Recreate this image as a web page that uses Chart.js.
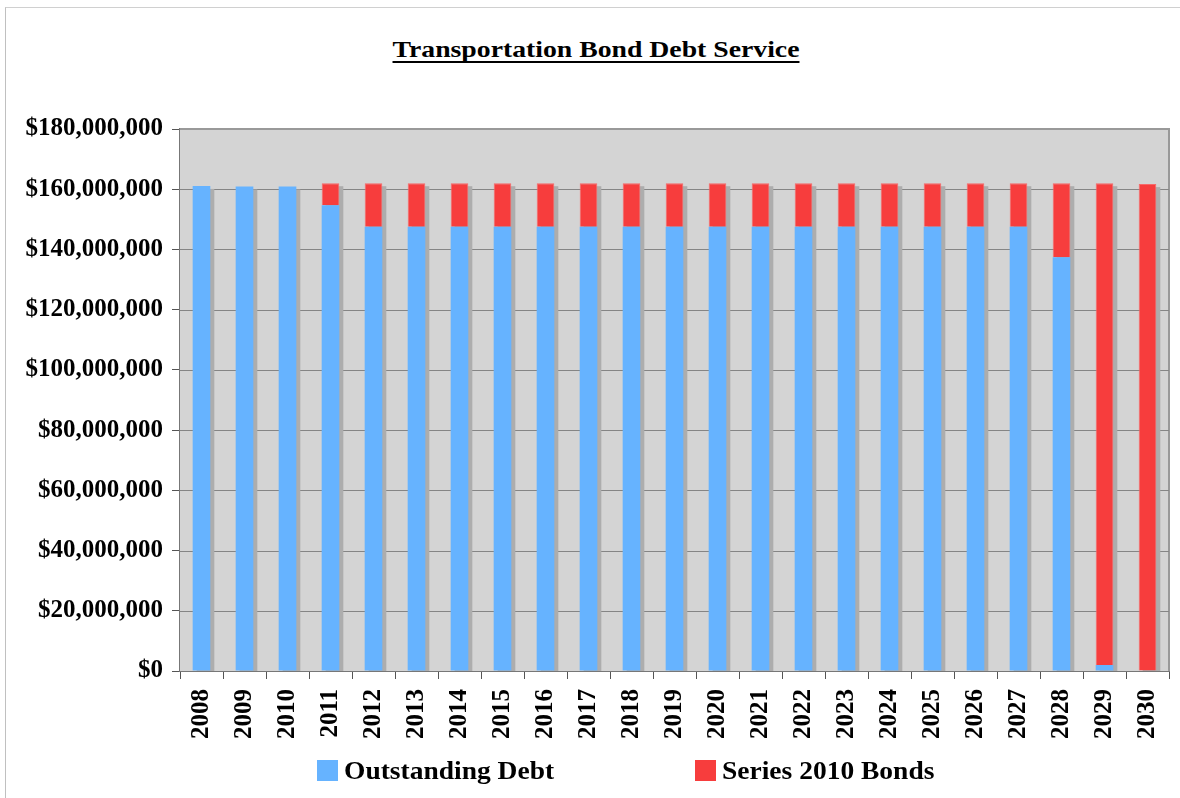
<!DOCTYPE html>
<html>
<head>
<meta charset="utf-8">
<script src="https://cdn.jsdelivr.net/npm/chart.js@4.4.1/dist/chart.umd.min.js"></script>
<style>
  html, body { margin: 0; padding: 0; background: #fff; }
  #wrap { position: relative; width: 1180px; height: 798px; overflow: hidden; font-family: 'Liberation Serif', 'Times New Roman', serif; }
  #frame { position: absolute; left: 5px; top: 7px; width: 1300px; height: 900px; border-top: 1px solid #d0d0d0; border-left: 1px solid #c0c0c0; }
  #title { position: absolute; left: 596px; top: 36px; transform: translateX(-50%) scaleX(1.18); white-space: nowrap; font-weight: bold; font-size: 23.5px; text-decoration: underline; text-decoration-skip-ink: none; text-underline-offset: 4px; }
  canvas { position: absolute; left: 0; top: 0; }
  .leg { position: absolute; top: 756px; font-weight: bold; font-size: 25px; line-height: 30px; white-space: nowrap; }
  .leg span { display: inline-block; width: 21px; height: 21px; vertical-align: -2px; margin-right: 6px; }
  .leg b { display: inline-block; transform: scaleX(1.1); transform-origin: left center; }
</style>
</head>
<body>
<div id="wrap">
  <div id="frame"></div>
  <div id="title">Transportation Bond Debt Service</div>
  <canvas id="chart" width="1180" height="798"></canvas>
  <div class="leg" style="left:317px"><span style="background:#66b3ff"></span><b>Outstanding Debt</b></div>
  <div class="leg" style="left:695px"><span style="background:#f73d3d"></span><b>Series 2010 Bonds</b></div>
</div>
<script>
const years = ['2008', '2009', '2010', '2011', '2012', '2013', '2014', '2015', '2016', '2017', '2018', '2019',
  '2020', '2021', '2022', '2023', '2024', '2025', '2026', '2027', '2028', '2029', '2030'];
const outstandingDebt = [161100000, 160900000, 160900000, 154700000, 147500000, 147500000, 147500000, 147500000,
  147500000, 147500000, 147500000, 147500000, 147500000, 147500000, 147500000, 147500000, 147500000, 147500000,
  147500000, 147500000, 137400000, 2000000, 0];
const series2010 = [0, 0, 0, 7300000, 14500000, 14500000, 14500000, 14500000, 14500000, 14500000, 14500000,
  14500000, 14500000, 14500000, 14500000, 14500000, 14500000, 14500000, 14500000, 14500000, 24600000,
  160000000, 161700000];
const yTicks = [0, 20000000, 40000000, 60000000, 80000000, 100000000, 120000000, 140000000, 160000000, 180000000];

const font = { family: "'Liberation Serif', 'Times New Roman', serif", weight: 'bold', size: 25 };

// grey plot background plus drop shadows behind each stacked bar
const plotBack = {
  id: 'plotBack',
  beforeDatasetsDraw(chart) {
    const { ctx, chartArea: a } = chart;
    ctx.save();
    ctx.fillStyle = '#d4d4d4';
    ctx.fillRect(a.left, a.top, a.right - a.left, a.bottom - a.top);
    ctx.strokeStyle = '#999';
    ctx.lineWidth = 2;
    ctx.beginPath();
    ctx.moveTo(a.left, a.top);
    ctx.lineTo(a.right, a.top);
    ctx.lineTo(a.right, a.bottom);
    ctx.stroke();
    const y = chart.scales.y;
    ctx.strokeStyle = '#858585';
    ctx.lineWidth = 1;
    yTicks.slice(1, -1).forEach(v => {
      const py = Math.round(y.getPixelForValue(v)) + 0.5;
      ctx.beginPath();
      ctx.moveTo(a.left, py);
      ctx.lineTo(a.right, py);
      ctx.stroke();
    });
    const m0 = chart.getDatasetMeta(0).data;
    const m1 = chart.getDatasetMeta(1).data;
    ctx.fillStyle = '#adadad';
    m0.forEach((bar, i) => {
      const top = Math.min(bar.y, m1[i].y);
      const w = bar.width;
      ctx.fillRect(bar.x - w / 2 + 4, top + 3, w, a.bottom - top - 3);
    });
    ctx.restore();
  }
};

new Chart(document.getElementById('chart'), {
  type: 'bar',
  data: {
    labels: years,
    datasets: [
      { label: 'Outstanding Debt', data: outstandingDebt, backgroundColor: '#66b3ff', borderWidth: 0 },
      { label: 'Series 2010 Bonds', data: series2010, backgroundColor: '#f73d3d', borderColor: '#f86868', borderWidth: 1 }
    ]
  },
  options: {
    responsive: false,
    animation: false,
    devicePixelRatio: 1,
    barPercentage: 0.41,
    categoryPercentage: 1,
    layout: { padding: { left: 0, top: 129, right: 11, bottom: 0 } },
    plugins: {
      legend: { display: false },
      title: { display: false },
      tooltip: { enabled: false }
    },
    scales: {
      x: {
        stacked: true,
        grid: { display: true, drawOnChartArea: false, offset: true, color: '#555', tickLength: 8 },
        border: { color: '#777', width: 2 },
        ticks: { color: '#000', font: { ...font, size: 25 }, minRotation: 90, maxRotation: 90, autoSkip: false, padding: 10 },
        afterFit(scale) {
          scale.height = 798 - 671;
          scale.paddingLeft = 0;
          scale.paddingRight = 0;
        }
      },
      y: {
        stacked: true,
        min: 0,
        max: 180000000,
        grid: { display: true, drawOnChartArea: false, color: '#555', tickLength: 8 },
        border: { color: '#777', width: 2 },
        afterBuildTicks(scale) { scale.ticks = yTicks.map(v => ({ value: v })); },
        ticks: {
          color: '#000',
          font: font,
          padding: 9,
          callback: v => '$' + Number(v).toLocaleString('en-US')
        },
        afterFit(scale) { scale.width = 180; }
      }
    }
  },
  plugins: [plotBack]
});
</script>
</body>
</html>
